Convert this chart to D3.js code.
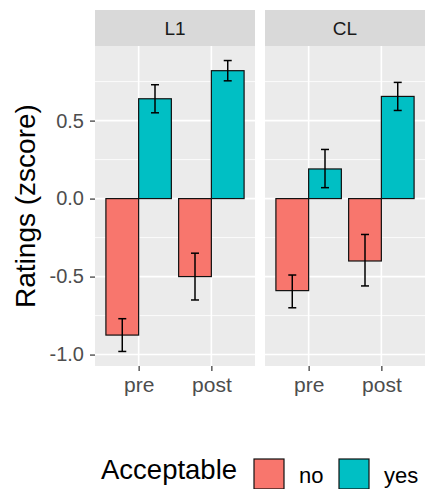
<!DOCTYPE html>
<html>
<head>
<meta charset="utf-8">
<script src="https://cdn.jsdelivr.net/npm/d3@7"></script>
<style>
  body { margin: 0; background: #fff; }
  text { font-family: "Liberation Sans", Arial, sans-serif; }
</style>
</head>
<body>
<svg id="chart" width="427" height="489"></svg>
<script>
var facets = ["L1", "CL"];
var times = ["pre", "post"];
var groups = ["no", "yes"];

// order: L1 pre, L1 post, CL pre, CL post
var meanNo  = [-0.875, -0.50, -0.59, -0.40];
var lowNo   = [-0.98, -0.65, -0.70, -0.56];
var highNo  = [-0.77, -0.35, -0.49, -0.23];
var meanYes = [0.64, 0.82, 0.19, 0.655];
var lowYes  = [0.55, 0.755, 0.07, 0.565];
var highYes = [0.73, 0.885, 0.315, 0.745];

var yTicks = [-1.0, -0.5, 0.0, 0.5];
var yMinor = [-0.75, -0.25, 0.25, 0.75];

var fills = {no: "#F8766D", yes: "#00BFC4"};

// build rows
var rows = [];
facets.forEach((f, fi) => {
  times.forEach((t, ti) => {
    var k = fi * 2 + ti;
    rows.push({facet: f, time: t, group: "no", mean: meanNo[k], lo: lowNo[k], hi: highNo[k]});
    rows.push({facet: f, time: t, group: "yes", mean: meanYes[k], lo: lowYes[k], hi: highYes[k]});
  });
});

var svg = d3.select("#chart");

var panelTop = 46, panelBottom = 366;
var panelLeft = 95, panelW = 160, panelGap = 10;
var stripH = 36;

// ggplot style 5% expansion
var ymin = d3.min(rows, d => Math.min(d.lo, 0));
var ymax = d3.max(rows, d => Math.max(d.hi, 0));
var pad = (ymax - ymin) * 0.05;
var y = d3.scaleLinear().domain([ymin - pad, ymax + pad]).range([panelBottom, panelTop]);

var x = d3.scalePoint().domain(times).range([0, panelW]).padding(0.6);
var step = x.step();
var xg = d3.scaleBand().domain(groups).range([-0.45 * step, 0.45 * step]);

facets.forEach((f, fi) => {
  var left = panelLeft + fi * (panelW + panelGap);
  var g = svg.append("g").attr("transform", "translate(" + left + ",0)");

  // strip
  g.append("rect").attr("x", 0).attr("y", panelTop - stripH)
    .attr("width", panelW).attr("height", stripH).attr("fill", "#D9D9D9");
  g.append("text").attr("x", panelW / 2).attr("y", panelTop - stripH / 2)
    .attr("dy", "0.36em").attr("text-anchor", "middle")
    .attr("font-size", 19).attr("fill", "#1A1A1A").text(f);

  // panel bg
  g.append("rect").attr("x", 0).attr("y", panelTop)
    .attr("width", panelW).attr("height", panelBottom - panelTop).attr("fill", "#EBEBEB");

  // grid
  g.selectAll(".minor").data(yMinor).enter().append("line")
    .attr("x1", 0).attr("x2", panelW)
    .attr("y1", d => y(d)).attr("y2", d => y(d))
    .attr("stroke", "#fff").attr("stroke-width", 0.8);
  g.selectAll(".major").data(yTicks).enter().append("line")
    .attr("x1", 0).attr("x2", panelW)
    .attr("y1", d => y(d)).attr("y2", d => y(d))
    .attr("stroke", "#fff").attr("stroke-width", 1.6);
  g.selectAll(".vmajor").data(times).enter().append("line")
    .attr("x1", d => x(d)).attr("x2", d => x(d))
    .attr("y1", panelTop).attr("y2", panelBottom)
    .attr("stroke", "#fff").attr("stroke-width", 1.6);

  var data = rows.filter(d => d.facet == f);

  // bars
  g.selectAll(".bar").data(data).enter().append("rect")
    .attr("x", d => x(d.time) + xg(d.group))
    .attr("width", xg.bandwidth())
    .attr("y", d => y(Math.max(0, d.mean)))
    .attr("height", d => Math.abs(y(d.mean) - y(0)))
    .attr("fill", d => fills[d.group])
    .attr("stroke", "#111").attr("stroke-width", 1.2);

  // error bars
  var capW = 4;
  data.forEach(d => {
    var cx = x(d.time) + xg(d.group) + xg.bandwidth() / 2;
    g.append("line").attr("x1", cx).attr("x2", cx)
      .attr("y1", y(d.lo)).attr("y2", y(d.hi))
      .attr("stroke", "#000").attr("stroke-width", 1.5);
    [d.lo, d.hi].forEach(v => {
      g.append("line").attr("x1", cx - capW).attr("x2", cx + capW)
        .attr("y1", y(v)).attr("y2", y(v))
        .attr("stroke", "#000").attr("stroke-width", 1.5);
    });
  });

  // x axis
  var xa = g.append("g").attr("transform", "translate(0," + panelBottom + ")")
    .call(d3.axisBottom(x).tickSize(5).tickPadding(6));
  xa.select(".domain").remove();
  xa.selectAll("line").attr("stroke", "#333333").attr("stroke-width", 1.2);
  xa.selectAll("text").attr("font-size", 21).attr("fill", "#4D4D4D")
    .attr("font-family", "Liberation Sans, Arial, sans-serif");
});

// y axis
var ya = svg.append("g").attr("transform", "translate(" + panelLeft + ",0)")
  .call(d3.axisLeft(y).tickValues(yTicks).tickFormat(d3.format(".1f")).tickSize(5).tickPadding(6));
ya.select(".domain").remove();
ya.selectAll("line").attr("stroke", "#333333").attr("stroke-width", 1.2);
ya.selectAll("text").attr("font-size", 20).attr("fill", "#4D4D4D")
  .attr("font-family", "Liberation Sans, Arial, sans-serif")
  .text(d => d3.format(".1f")(d).replace("−", "-"));

// y title
svg.append("text")
  .attr("transform", "translate(35," + (panelTop + panelBottom) / 2 + ") rotate(-90)")
  .attr("text-anchor", "middle").attr("font-size", 28).attr("fill", "#000")
  .text("Ratings (zscore)");

// legend
var lg = svg.append("g");
lg.append("text").attr("x", 101).attr("y", 479).attr("font-size", 27.5).attr("fill", "#000")
  .text("Acceptable");
var keyX = d3.scaleOrdinal().domain(groups).range([254, 339]);
groups.forEach(gr => {
  lg.append("rect").attr("x", keyX(gr)).attr("y", 459).attr("width", 30).attr("height", 30)
    .attr("fill", fills[gr]).attr("stroke", "#111").attr("stroke-width", 1.2);
  lg.append("text").attr("x", keyX(gr) + 45).attr("y", 483).attr("font-size", 22).attr("fill", "#000")
    .text(gr);
});
</script>
</body>
</html>
